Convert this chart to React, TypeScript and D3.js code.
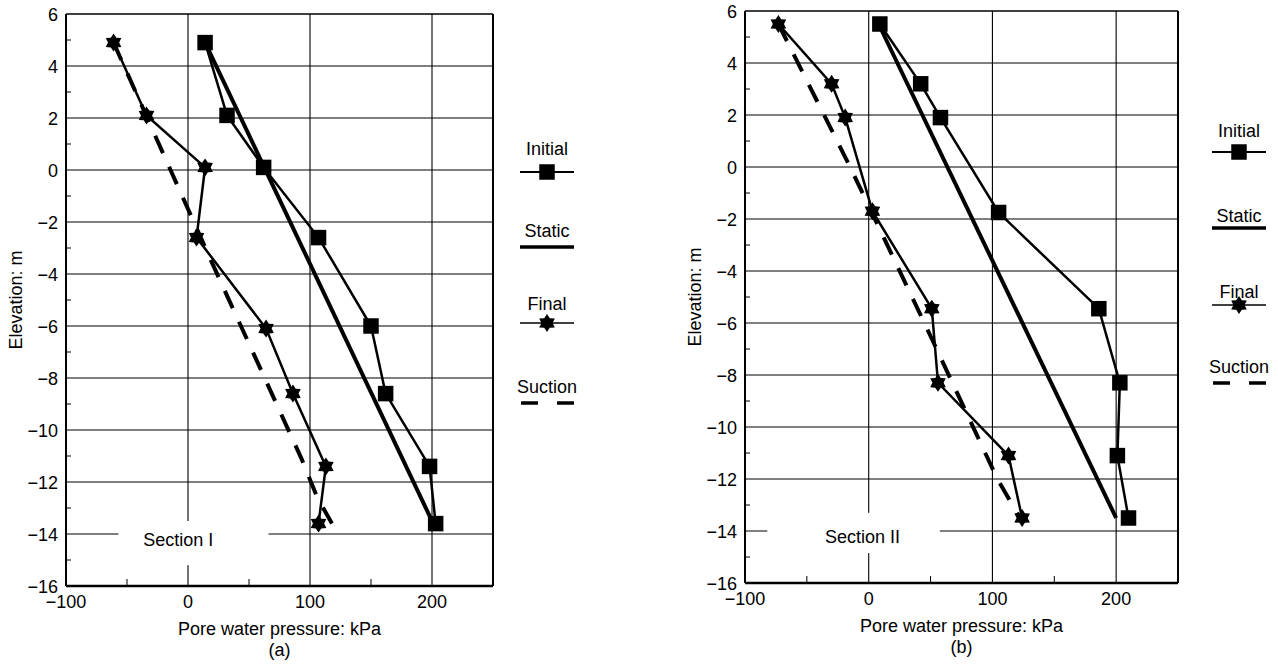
import React from 'react';
import * as d3 from 'd3';

// ---------- data ----------
const ELEV_TICKS = [6, 4, 2, 0, -2, -4, -6, -8, -10, -12, -14, -16];
const ELEV_MINOR = [5, 3, 1, -1, -3, -5, -7, -9, -11, -13, -15];
const ELEV_GRID = [4, 2, 0, -2, -4, -6, -8, -10, -12, -14];
const PWP_TICKS = [-100, 0, 100, 200];
const PWP_MINOR = [-50, 50, 150];
const PWP_GRID = [0, 100, 200];

const LEGEND_LABELS = ['Initial', 'Static', 'Final', 'Suction'];

// Section I
const A_INITIAL_PWP = [14, 32, 62, 107, 150, 162, 198, 203];
const A_INITIAL_ELEV = [4.9, 2.1, 0.1, -2.6, -6.0, -8.6, -11.4, -13.6];
const A_STATIC_PWP = [14, 200];
const A_STATIC_ELEV = [4.9, -13.5];
const A_FINAL_PWP = [-61, -34, 14, 7, 64, 86, 113, 107];
const A_FINAL_ELEV = [4.9, 2.1, 0.1, -2.6, -6.1, -8.6, -11.4, -13.6];
const A_SUCTION_PWP = [-61, 20, 93, 106, 118];
const A_SUCTION_ELEV = [4.9, -3.6, -11.1, -12.6, -13.6];

// Section II
const B_INITIAL_PWP = [9, 42, 58, 105, 186, 203, 201, 210];
const B_INITIAL_ELEV = [5.5, 3.2, 1.9, -1.75, -5.45, -8.3, -11.1, -13.5];
const B_STATIC_PWP = [8, 200];
const B_STATIC_ELEV = [5.5, -13.5];
const B_FINAL_PWP = [-73, -30, -19, 3, 51, 56, 113, 124];
const B_FINAL_ELEV = [5.5, 3.2, 1.9, -1.7, -5.45, -8.3, -11.1, -13.5];
const B_SUCTION_PWP = [-73, -15, 48, 104, 121];
const B_SUCTION_ELEV = [5.5, 0, -6.3, -12.0, -13.4];

const zip = (xs: number[], ys: number[]) => xs.map((x, i) => [x, ys[i]] as [number, number]);

const FONT = '"Liberation Sans", Arial, Helvetica, sans-serif';
const FS = 18;

// six-pointed star symbol
const hexagram = {
  draw(ctx: any, size: number) {
    const R = Math.sqrt(size) / 2;
    const r = R * 0.62;
    for (let i = 0; i < 12; i++) {
      const a = -Math.PI / 2 + (i * Math.PI) / 6;
      const rad = i % 2 === 0 ? R : r;
      const px = rad * Math.cos(a);
      const py = rad * Math.sin(a);
      if (i === 0) ctx.moveTo(px, py);
      else ctx.lineTo(px, py);
    }
    ctx.closePath();
  },
};
const starPath = d3.symbol().type(hexagram as any).size(18 * 18)() as string;
const squarePath = d3.symbol().type(d3.symbolSquare).size(15.5 * 15.5)() as string;

type PanelProps = {
  x0: number; x1: number; y0: number; y1: number;
  initial: [number, number][];
  stat: [number, number][];
  fin: [number, number][];
  suction: [number, number][];
  section: string;
  sub: string;
  labelPos: [number, number];
  box: [number, number, number, number];
  legendX: number;
  legendText: number[];
  legendLine: number[];
};

function Panel(p: PanelProps) {
  const x = d3.scaleLinear().domain([-100, 250]).range([p.x0, p.x1]);
  const y = d3.scaleLinear().domain([-16, 6]).range([p.y1, p.y0]);
  const line = d3.line<[number, number]>().x(d => x(d[0])).y(d => y(d[1]));
  const cx = (p.x0 + p.x1) / 2;
  const cy = (p.y0 + p.y1) / 2;
  const lx = p.legendX;
  return (
    <g fontFamily={FONT} fill="#000">
      {/* grid */}
      {ELEV_GRID.map(e => (
        <line key={'h' + e} x1={p.x0} x2={p.x1} y1={y(e)} y2={y(e)} stroke="#000" strokeWidth={1.1} />
      ))}
      {PWP_GRID.map(v => (
        <line key={'v' + v} x1={x(v)} x2={x(v)} y1={p.y0} y2={p.y1} stroke="#000" strokeWidth={1.1} />
      ))}
      {/* minor ticks */}
      {ELEV_MINOR.map(e => (
        <line key={'my' + e} x1={p.x0} x2={p.x0 + 5} y1={y(e)} y2={y(e)} stroke="#000" strokeWidth={1} />
      ))}
      {PWP_MINOR.map(v => (
        <line key={'mx' + v} x1={x(v)} x2={x(v)} y1={p.y1} y2={p.y1 - 7} stroke="#000" strokeWidth={1} />
      ))}
      {/* section label box */}
      <rect x={x(p.box[0])} y={y(p.box[2])} width={x(p.box[1]) - x(p.box[0])} height={y(p.box[3]) - y(p.box[2])} fill="#fff" />
      <text x={x(p.labelPos[0])} y={y(p.labelPos[1]) + 6.5} fontSize={FS} textAnchor="middle">{p.section}</text>
      {/* frame */}
      <line x1={p.x0} x2={p.x1} y1={p.y0} y2={p.y0} stroke="#000" strokeWidth={1.5} />
      <line x1={p.x1} x2={p.x1} y1={p.y0} y2={p.y1} stroke="#000" strokeWidth={2} />
      <line x1={p.x0} x2={p.x0} y1={p.y0} y2={p.y1} stroke="#000" strokeWidth={2} />
      <line x1={p.x0} x2={p.x1} y1={p.y1} y2={p.y1} stroke="#000" strokeWidth={2.5} />
      {/* series */}
      <path d={line(p.suction) as string} fill="none" stroke="#000" strokeWidth={4} strokeDasharray="19,15" />
      <path d={line(p.stat) as string} fill="none" stroke="#000" strokeWidth={4} />
      <path d={line(p.initial) as string} fill="none" stroke="#000" strokeWidth={2.5} />
      <path d={line(p.fin) as string} fill="none" stroke="#000" strokeWidth={2.5} />
      {p.initial.map((d, i) => (
        <path key={'sq' + i} d={squarePath} transform={`translate(${x(d[0])},${y(d[1])})`} fill="#000" />
      ))}
      {p.fin.map((d, i) => (
        <path key={'st' + i} d={starPath} transform={`translate(${x(d[0])},${y(d[1])})`} fill="#000" />
      ))}
      {/* tick labels */}
      {ELEV_TICKS.map(e => (
        <text key={'yl' + e} x={p.x0 - 8} y={y(e) + 6.5} fontSize={FS} textAnchor="end">
          {e < 0 ? '\u2212' + Math.abs(e) : String(e)}
        </text>
      ))}
      {PWP_TICKS.map(v => (
        <text key={'xl' + v} x={x(v)} y={p.y1 + 22} fontSize={FS} textAnchor="middle">
          {v < 0 ? '\u2212' + Math.abs(v) : String(v)}
        </text>
      ))}
      <text x={cx} y={p.y1 + 49} fontSize={FS} textAnchor="middle">Pore water pressure: kPa</text>
      <text x={cx} y={p.y1 + 70} fontSize={FS} textAnchor="middle">{p.sub}</text>
      <text transform={`translate(${p.x0 - 44},${cy}) rotate(-90)`} fontSize={FS} textAnchor="middle">Elevation: m</text>
      {/* legend */}
      {LEGEND_LABELS.map((t, i) => (
        <text key={'lg' + i} x={lx} y={p.legendText[i]} fontSize={FS} textAnchor="middle">{t}</text>
      ))}
      <line x1={lx - 27} x2={lx + 27} y1={p.legendLine[0]} y2={p.legendLine[0]} stroke="#000" strokeWidth={2.2} />
      <path d={squarePath} transform={`translate(${lx},${p.legendLine[0]})`} fill="#000" />
      <line x1={lx - 27} x2={lx + 27} y1={p.legendLine[1]} y2={p.legendLine[1]} stroke="#000" strokeWidth={3.5} />
      <line x1={lx - 27} x2={lx + 27} y1={p.legendLine[2]} y2={p.legendLine[2]} stroke="#000" strokeWidth={1.6} />
      <path d={starPath} transform={`translate(${lx},${p.legendLine[2]})`} fill="#000" />
      <line x1={lx - 26} x2={lx + 27} y1={p.legendLine[3]} y2={p.legendLine[3]} stroke="#000" strokeWidth={3.5} strokeDasharray="17,19" />
    </g>
  );
}

export default function App() {
  return (
    <svg width={1278} height={668} style={{ position: 'absolute', left: 0, top: 0, background: '#fff' }}>
      <rect x={0} y={0} width={1278} height={668} fill="#fff" />
      <Panel
        x0={66} x1={493} y0={14} y1={586}
        initial={zip(A_INITIAL_PWP, A_INITIAL_ELEV)}
        stat={zip(A_STATIC_PWP, A_STATIC_ELEV)}
        fin={zip(A_FINAL_PWP, A_FINAL_ELEV)}
        suction={zip(A_SUCTION_PWP, A_SUCTION_ELEV)}
        section="Section I"
        sub="(a)"
        labelPos={[-8, -14.23]}
        box={[-57, 66, -13.5, -15.2]}
        legendX={547}
        legendText={[155, 237, 310, 393]}
        legendLine={[172, 247, 323, 403]}
      />
      <Panel
        x0={745} x1={1178} y0={11} y1={583}
        initial={zip(B_INITIAL_PWP, B_INITIAL_ELEV)}
        stat={zip(B_STATIC_PWP, B_STATIC_ELEV)}
        fin={zip(B_FINAL_PWP, B_FINAL_ELEV)}
        suction={zip(B_SUCTION_PWP, B_SUCTION_ELEV)}
        section="Section II"
        sub="(b)"
        labelPos={[-5, -14.2]}
        box={[-82, 57.5, -13.3, -14.85]}
        legendX={1239}
        legendText={[137, 222, 298, 373]}
        legendLine={[152, 228, 305, 383]}
      />
    </svg>
  );
}
